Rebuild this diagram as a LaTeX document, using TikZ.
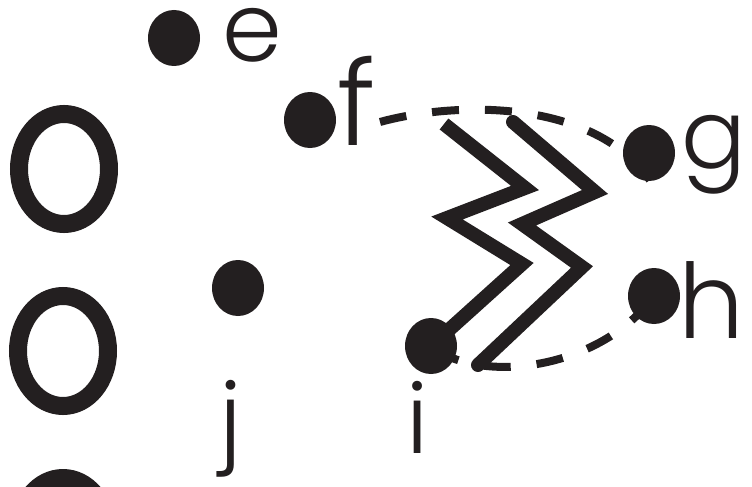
\documentclass[tikz,border=0pt]{standalone}
\usepackage{fontspec}
\setmainfont{Poppins Light}
\usetikzlibrary{shapes.geometric}
\definecolor{ink}{HTML}{231F20}
\begin{document}
\begin{tikzpicture}[x=1pt,y=-1pt,
  dot/.style={ellipse, fill=ink, draw=none, inner sep=0pt, minimum width=52pt, minimum height=56pt},
  lbl/.style={font=\fontsize{96}{96}\selectfont, text=ink, inner sep=0pt},
  tall/.style={font=\fontsize{118}{118}\selectfont, text=ink, inner sep=0pt},
  ring/.style={ellipse, draw=ink, line width=18pt, inner sep=0pt, minimum width=90pt, minimum height=110pt},
  blob/.style={ellipse, fill=ink, draw=none, inner sep=0pt, minimum width=108pt, minimum height=128pt},
  dashedge/.style={draw=ink, line width=8pt, dash pattern=on 27pt off 26pt},
  zz/.style={draw=ink, line width=14pt, miter limit=10}]
\useasboundingbox (0,0) rectangle (752,487);
% big shapes at the left
\node[ring] (o1) at (64,169) {};
\node[ring] (o2) at (63,351) {};
\node[blob] (o3) at (63,533) {};
% dot positions
\coordinate (pe) at (174,38);
\coordinate (pf) at (310,120);
\coordinate (pg) at (649,153);
\coordinate (ph) at (654,296);
\coordinate (pi) at (431,346);
\coordinate (pj) at (238,288);
% connectors (under the dots)
\coordinate (fs) at (380,122);
\coordinate (gend) at (653,185);
\draw[dashedge] (fs) .. controls (460,100) and (600,100) .. (gend);
\draw[dashedge, dash phase=49pt] (pi) .. controls (480,385) and (600,370) .. (ph);
\draw[zz, line cap=butt] (444,124) -- (525,188) -- (447,218) -- (522,264) -- (pi);
\draw[zz, line cap=round] (513,122) -- (595,192) -- (522,224) -- (582,267) -- (478,365);
% dots
\node[dot] (e) at (pe) {};
\node[dot] (f) at (pf) {};
\node[dot] (g) at (pg) {};
\node[dot] (h) at (ph) {};
\node[dot] (i) at (pi) {};
\node[dot] (j) at (pj) {};
% labels
\node[lbl, anchor=base west] (le) at (222,62) {e};
\node[tall, anchor=base west] (lf) at (337,145) {f};
\node[lbl, anchor=base west] (lg) at (681,168) {g};
\node[lbl, anchor=base west, font=\fontsize{104}{104}\selectfont] (lh) at (678,338) {h};
\node[lbl, anchor=base] (li) at (417,453) {i};
\node[lbl, anchor=base] (lj) at (231,452) {j};
\end{tikzpicture}
\end{document}
